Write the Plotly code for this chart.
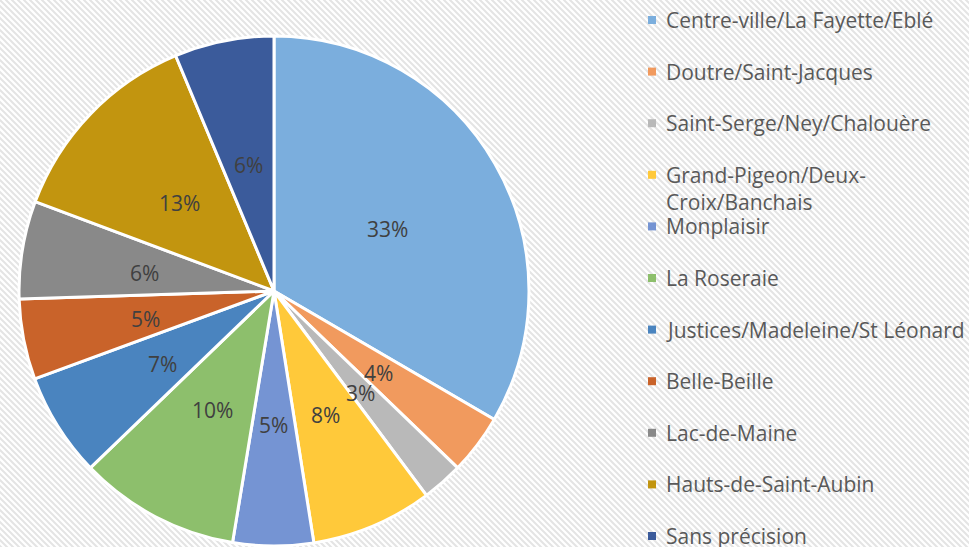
import base64
import math
import plotly.graph_objects as go

labels = [
    "Centre-ville/La Fayette/Eblé",
    "Doutre/Saint-Jacques",
    "Saint-Serge/Ney/Chalouère",
    "Grand-Pigeon/Deux-Croix/Banchais",
    "Monplaisir",
    "La Roseraie",
    "Justices/Madeleine/St Léonard",
    "Belle-Beille",
    "Lac-de-Maine",
    "Hauts-de-Saint-Aubin",
    "Sans précision",
]
legend_lines = [
    ["Centre-ville/La Fayette/Eblé"],
    ["Doutre/Saint-Jacques"],
    ["Saint-Serge/Ney/Chalouère"],
    ["Grand-Pigeon/Deux-", "Croix/Banchais"],
    ["Monplaisir"],
    ["La Roseraie"],
    ["Justices/Madeleine/St Léonard"],
    ["Belle-Beille"],
    ["Lac-de-Maine"],
    ["Hauts-de-Saint-Aubin"],
    ["Sans précision"],
]
values = [33.4, 3.8, 2.6, 7.7, 5.1, 10.2, 6.6, 5.1, 6.2, 13.0, 6.3]
colors = ["#7BAEDD", "#F19A5E", "#B9B9B9", "#FFC93A", "#7594D3", "#8DBF6C",
          "#4A84BF", "#C9632A", "#898989", "#C2950F", "#3B5B9B"]

W, H = 969, 547
CX, CY, R = 274, 291, 255

# striped background
svg = (f"<svg xmlns='http://www.w3.org/2000/svg' width='{W}' height='{H}'>"
       "<defs><pattern id='p' width='6' height='6' patternUnits='userSpaceOnUse'>"
       "<path d='M0,0 L6,6 M-3,3 L3,9 M3,-3 L9,3' stroke='#e4e4e4' stroke-width='2'/>"
       "</pattern></defs><rect width='100%' height='100%' fill='white'/>"
       "<rect width='100%' height='100%' fill='url(#p)'/></svg>")
src = "data:image/svg+xml;base64," + base64.b64encode(svg.encode()).decode()

def px(x):
    return x / W

def py(y):
    return 1 - y / H

fig = go.Figure(go.Pie(
    labels=labels, values=values, sort=False, direction="clockwise", rotation=0,
    marker=dict(colors=colors, line=dict(color="white", width=3)),
    textinfo="none", hoverinfo="label+percent", showlegend=False,
    domain=dict(x=[px(CX - R), px(CX + R)], y=[py(CY + R), py(CY - R)]),
))

annotations = []
total = sum(values)
cum = 0.0
for v in values:
    mid = (cum + v / 2) / total * 2 * math.pi
    cum += v
    r = 0.515 * R
    x = CX + r * math.sin(mid)
    y = CY - r * math.cos(mid) + 3
    annotations.append(dict(x=px(x), y=py(y), xref="paper", yref="paper",
                            text=f"{round(v / total * 100):.0f}%", showarrow=False,
                            font=dict(family="Open Sans", size=21, color="#404040"),
                            xanchor="center", yanchor="middle"))

shapes = []
y0, step = 20, 51.6
for i, (lines, c) in enumerate(zip(legend_lines, colors)):
    yi = y0 + i * step
    shapes.append(dict(type="rect", xref="paper", yref="paper",
                       x0=px(648), x1=px(656), y0=py(yi + 4), y1=py(yi - 4),
                       fillcolor=c, line=dict(width=0)))
    for j, t in enumerate(lines):
        annotations.append(dict(x=px(664), y=py(yi + j * 27), xref="paper", yref="paper",
                                text=t, showarrow=False, xanchor="left", yanchor="middle",
                                font=dict(family="Open Sans", size=21, color="#595959")))

fig.update_layout(
    width=W, height=H, margin=dict(l=0, r=0, t=0, b=0),
    paper_bgcolor="white", plot_bgcolor="white",
    images=[dict(source=src, xref="paper", yref="paper", x=0, y=1, sizex=1, sizey=1,
                 xanchor="left", yanchor="top", sizing="stretch", layer="below")],
    annotations=annotations, shapes=shapes,
)
fig.write_html("out.html", config={"displayModeBar": False},
               post_script="document.body.style.margin='0';document.body.style.overflow='hidden';")
